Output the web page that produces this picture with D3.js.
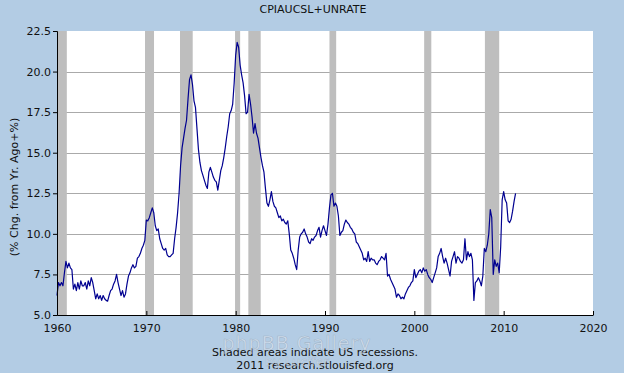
<!DOCTYPE html>
<html>
<head>
<meta charset="utf-8">
<script src="https://cdn.jsdelivr.net/npm/d3@7"></script>
<style>
  body { margin: 0; background: #b3cce4; }
  svg { display: block; font-family: "DejaVu Sans", Verdana, sans-serif; }
</style>
</head>
<body>
<div id="chart"></div>
<script>
/* CONSTANTS AND DATA */
const width = 624;
const height = 373;

const title = "CPIAUCSL+UNRATE";
const yLabel = "(% Chg. from Yr. Ago+%)";

// one value every 2 months (Jan, Mar, May, Jul, Sep, Nov), starting Jan 1960
const startYear = 1960;
const monthsPerPoint = 2;
const values = [
  6.2, 7.0, 6.8, 7.0, 6.8, 7.6,        // 1960
  8.3, 7.9, 8.2, 7.9, 7.8, 6.6,        // 1961
  6.9, 6.5, 7.0, 6.6, 7.1, 6.8,
  6.8, 7.0, 6.6, 7.1, 6.8, 7.3,
  7.0, 6.5, 6.0, 6.3, 6.0, 6.2,
  5.9, 6.2, 6.0, 5.9, 5.85, 6.2,       // 1965
  6.5, 6.6, 6.9, 7.1, 7.5, 7.0,
  6.6, 6.2, 6.5, 6.1, 6.3, 6.9,
  7.4, 7.6, 7.9, 8.1, 7.9, 8.0,
  8.5, 8.6, 8.8, 9.1, 9.3, 9.6,
  10.85, 10.8, 11.0, 11.3, 11.6, 11.3, // 1970
  10.5, 10.2, 10.3, 9.7, 9.4, 9.1,
  9.0, 9.1, 8.7, 8.6, 8.6, 8.7,
  8.8, 9.7, 10.4, 11.3, 12.5, 14.2,
  15.3, 15.9, 16.5, 17.0, 18.3, 19.5,
  19.8, 19.2, 18.2, 17.8, 16.5, 15.2,  // 1975
  14.4, 13.9, 13.6, 13.3, 13.0, 12.8,
  13.8, 14.1, 13.8, 13.5, 13.3, 13.2,
  12.7, 13.3, 13.9, 14.2, 14.7, 15.3,
  16.0, 16.6, 17.4, 17.6, 18.0, 19.3,
  21.0, 21.8, 21.5, 20.4, 19.8, 19.3,  // 1980
  18.5, 17.4, 17.5, 18.6, 18.0, 17.2,
  16.2, 16.8, 16.2, 15.9, 15.3, 14.7,
  14.2, 13.8, 12.8, 11.9, 11.7, 12.1,
  12.6, 12.0, 11.7, 11.6, 11.3, 11.0,
  11.1, 10.8, 10.9, 10.7, 10.6, 10.8,  // 1985
  10.0, 9.0, 8.8, 8.5, 8.1, 7.8,
  9.0, 9.8, 10.0, 10.1, 10.3, 10.0,
  9.8, 9.5, 9.4, 9.7, 9.6, 9.8,
  9.9, 10.2, 10.4, 9.8, 10.2, 10.5,
  10.2, 9.9, 10.6, 11.6, 12.4, 12.5,   // 1990
  11.7, 11.9, 11.7, 11.1, 9.9, 10.1,
  10.2, 10.6, 10.85, 10.7, 10.6, 10.4,
  10.3, 10.1, 10.0, 9.5, 9.4, 9.2,
  9.0, 8.8, 8.4, 8.5, 8.3, 8.9,
  8.3, 8.5, 8.4, 8.4, 8.2, 8.1,        // 1995
  8.3, 8.4, 8.6, 8.5, 8.4, 8.8,
  7.4, 7.5, 7.2, 7.0, 6.8, 6.6,
  6.1, 6.3, 6.2, 6.0, 6.1, 6.0,
  6.3, 6.5, 6.7, 6.8, 7.0, 7.1,
  7.8, 7.3, 7.5, 7.7, 7.8, 7.6,        // 2000
  7.9, 7.7, 7.8, 7.5, 7.3, 7.2,
  7.0, 7.3, 7.6, 7.9, 8.6, 8.8,
  9.1, 8.6, 8.2, 8.5, 8.2, 7.8,
  7.4, 8.3, 8.6, 8.9, 8.2, 8.6,
  8.5, 8.3, 8.2, 8.4, 9.7, 8.4,        // 2005
  8.9, 8.6, 8.8, 8.4, 5.9, 7.0,
  7.1, 7.3, 7.1, 6.8, 7.4, 9.1,
  8.9, 9.3, 10.0, 11.5, 11.0, 7.5,
  8.4, 8.0, 8.2, 7.6, 9.2, 12.1,
  12.6, 12.1, 11.9, 10.8, 10.7, 10.9,  // 2010
  11.4, 12.0, 12.5
];

// US recessions, as decimal years [start, end]
const recessions = [
  [1960.0, 1961.1], [1969.85, 1970.86], [1973.77, 1975.19], [1979.93, 1980.5],
  [1981.42, 1982.8], [1990.5, 1991.25], [2001.1, 2001.9], [2007.9, 2009.5]
];

const xTicks = [1960, 1970, 1980, 1990, 2000, 2010, 2020];
const yTicks = [5.0, 7.5, 10.0, 12.5, 15.0, 17.5, 20.0, 22.5];

const series = values.map((v, i) => ({ t: startYear + i * monthsPerPoint / 12, v: v }));

/* SCALES */
const x = d3.scaleLinear().domain([1960, 2020]).range([57, 593]);
const y = d3.scaleLinear().domain([5, 22.5]).range([315, 31]);

/* SVG */
const svg = d3.select("#chart")
  .append("svg")
  .attr("width", width)
  .attr("height", height);

svg.append("rect")
  .attr("width", width).attr("height", height)
  .attr("fill", "#b3cce4");

// plot area
svg.append("rect")
  .attr("x", x(1960)).attr("y", y(22.5))
  .attr("width", x(2020) - x(1960))
  .attr("height", y(5) - y(22.5))
  .attr("fill", "white");

// grid
svg.selectAll(".grid")
  .data(yTicks.filter(d => d > 5 && d < 22.5))
  .join("line")
  .attr("class", "grid")
  .attr("x1", x(1960)).attr("x2", x(2020))
  .attr("y1", d => Math.round(y(d)) + 0.5)
  .attr("y2", d => Math.round(y(d)) + 0.5)
  .attr("stroke", "#aaaaaa")
  .attr("stroke-width", 1);

// recession bars
svg.selectAll(".rec")
  .data(recessions)
  .join("rect")
  .attr("class", "rec")
  .attr("x", d => x(d[0]))
  .attr("y", y(22.5))
  .attr("width", d => x(d[1]) - x(d[0]))
  .attr("height", y(5) - y(22.5))
  .attr("fill", "#bebebe");

// line
const lineGen = d3.line()
  .x(d => x(d.t))
  .y(d => y(d.v));

svg.append("path")
  .datum(series)
  .attr("fill", "none")
  .attr("stroke", "#000090")
  .attr("stroke-width", 1.2)
  .attr("stroke-linejoin", "round")
  .attr("d", lineGen);

// axes
const yAxis = svg.append("g")
  .attr("transform", `translate(${x(1960)},0)`)
  .call(d3.axisLeft(y).tickValues(yTicks).tickFormat(d3.format(".1f")).tickSize(4).tickPadding(2));

const xAxis = svg.append("g")
  .attr("transform", `translate(0,${y(5)})`)
  .call(d3.axisBottom(x).tickValues(xTicks).tickFormat(d3.format("d")).tickSizeInner(-4).tickSizeOuter(0).tickPadding(9));

[yAxis, xAxis].forEach(g => {
  g.select(".domain").attr("stroke", "black");
  g.selectAll(".tick line").attr("stroke", "black");
  g.selectAll("text")
    .attr("fill", "#111")
    .style("font-size", "11px")
    .style("font-family", "'DejaVu Sans', Verdana, sans-serif");
});

// texts
svg.append("text")
  .attr("x", 313).attr("y", 12.5)
  .attr("text-anchor", "middle")
  .style("font-size", "11px")
  .attr("fill", "#111")
  .text(title);

svg.append("text")
  .attr("transform", "translate(18,187) rotate(-90)")
  .attr("text-anchor", "middle")
  .style("font-size", "11px")
  .attr("fill", "#111")
  .text(yLabel);

svg.append("text")
  .attr("x", 315).attr("y", 356)
  .attr("text-anchor", "middle")
  .style("font-size", "11px")
  .attr("fill", "#111")
  .text("Shaded areas indicate US recessions.");

svg.append("text")
  .attr("x", 315).attr("y", 369)
  .attr("text-anchor", "middle")
  .style("font-size", "11px")
  .attr("fill", "#111")
  .text("2011 research.stlouisfed.org");

// gallery watermark
svg.append("text")
  .attr("x", 297).attr("y", 350)
  .attr("text-anchor", "middle")
  .style("font-size", "19px")
  .style("letter-spacing", "1px")
  .attr("fill", "#e6edf5")
  .attr("fill-opacity", 0.55)
  .attr("stroke", "#7f8fa3")
  .attr("stroke-opacity", 0.45)
  .attr("stroke-width", 0.6)
  .text("phpBB Gallery");

svg.append("text")
  .attr("x", 297).attr("y", 366)
  .attr("text-anchor", "middle")
  .style("font-size", "13px")
  .attr("fill", "#e6edf5")
  .attr("fill-opacity", 0.5)
  .attr("stroke", "#7f8fa3")
  .attr("stroke-opacity", 0.4)
  .attr("stroke-width", 0.5)
  .text("by Lucifer");
</script>
</body>
</html>
